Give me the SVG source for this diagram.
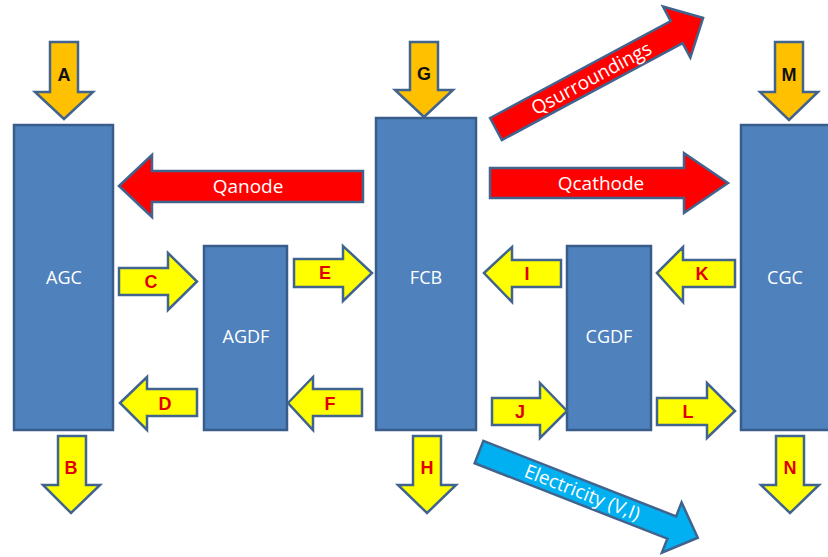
<svg xmlns="http://www.w3.org/2000/svg" width="828" height="557" viewBox="0 0 828 557">
<style>
.box{fill:#4F81BD;stroke:#385D8A;stroke-width:2.5}
.bl{font-family:"Open Sans","Liberation Sans",sans-serif;font-size:18px;fill:#fff;text-anchor:middle}
.io{fill:#FFC000;stroke:#41648F;stroke-width:2.5;stroke-linejoin:miter}
.y{fill:#FFFF00;stroke:#41648F;stroke-width:2.5}
.r{fill:#FF0000;stroke:#41648F;stroke-width:2.5}
.b{fill:#00B0F0;stroke:#41648F;stroke-width:2.5}
.lk{font-family:"Liberation Sans",Arial,sans-serif;font-weight:bold;font-size:18px;fill:#111;text-anchor:middle}
.lr{font-family:"Liberation Sans",Arial,sans-serif;font-weight:bold;font-size:18px;fill:#E00000;text-anchor:middle}
.wt{font-family:"Open Sans","Liberation Sans",sans-serif;font-size:19px;fill:#fff;text-anchor:middle}
</style>
<rect width="828" height="557" fill="#fff"/>
<g id="AGC"><rect class="box" x="14" y="125" width="99" height="305"/><text class="bl" x="64" y="284">AGC</text></g>
<g id="AGDF"><rect class="box" x="204" y="246" width="83" height="184"/><text class="bl" x="246" y="343">AGDF</text></g>
<g id="FCB"><rect class="box" x="376" y="118" width="100" height="312"/><text class="bl" x="426" y="284">FCB</text></g>
<g id="CGDF"><rect class="box" x="567" y="246" width="84" height="184"/><text class="bl" x="609" y="343">CGDF</text></g>
<g id="CGC"><rect class="box" x="741" y="125" width="100" height="305"/><text class="bl" x="785" y="284">CGC</text></g>
<g id="connectors">
<g id="A"><polygon class="io" points="50,42 78,42 78,92 93,92 64,119 35,92 50,92"/><text class="lk" x="64" y="81">A</text></g>
<g id="G"><polygon class="io" points="410,42 438,42 438,90 453,90 424,117 395,90 410,90"/><text class="lk" x="424" y="80">G</text></g>
<g id="M"><polygon class="io" points="775,42 803,42 803,92 818,92 789,120 760,92 775,92"/><text class="lk" x="789" y="81">M</text></g>
<g id="B"><polygon class="y" points="58,436 86,436 86,485 100,485 71,513 43,485 58,485"/><text class="lr" x="71" y="474">B</text></g>
<g id="H"><polygon class="y" points="413,436 441,436 441,485 456,485 427,513 398,485 413,485"/><text class="lr" x="427" y="474">H</text></g>
<g id="N"><polygon class="y" points="776,436 804,436 804,485 819,485 790,513 761,485 776,485"/><text class="lr" x="790" y="474">N</text></g>
<g id="Qanode"><polygon class="r" points="119,186 152,155 152,171 363,171 363,202 152,202 152,217"/><text class="wt" x="248" y="193">Qanode</text></g>
<g id="Qcathode"><polygon class="r" points="490,168 684,168 684,153 728,183 684,213 684,198 490,198"/><text class="wt" x="601" y="190">Qcathode</text></g>
<g id="C"><polygon class="y" points="119,268 168,268 168,253 197,281.5 168,310 168,295 119,295"/><text class="lr" x="151" y="288">C</text></g>
<g id="E"><polygon class="y" points="294,259 343,259 343,246 372,273 343,301 343,287 294,287"/><text class="lr" x="325" y="279">E</text></g>
<g id="D"><polygon class="y" points="120,403 147,377 147,389 197,389 197,416 147,416 147,430"/><text class="lr" x="165" y="410">D</text></g>
<g id="F"><polygon class="y" points="288,403 313,377 313,389 362,389 362,416 313,416 313,430"/><text class="lr" x="330" y="410">F</text></g>
<g id="I"><polygon class="y" points="484,273 512,247 512,260 561,260 561,287 512,287 512,302"/><text class="lr" x="527" y="280">I</text></g>
<g id="K"><polygon class="y" points="657,273 683,247 683,260 735,260 735,287 683,287 683,302"/><text class="lr" x="702" y="280">K</text></g>
<g id="J"><polygon class="y" points="492,398 540,398 540,383 567,411 540,438 540,425 492,425"/><text class="lr" x="520" y="418">J</text></g>
<g id="L"><polygon class="y" points="657,398 707,398 707,383 735,411 707,438 707,425 657,425"/><text class="lr" x="688" y="418">L</text></g>
<g id="Qsurroundings" transform="translate(496,129) rotate(-28.2)"><polygon class="r" points="0,-12.5 205,-12.5 205,-29 235,0 205,29 205,12.5 0,12.5"/><text class="wt" x="108" y="7">Qsurroundings</text></g>
<g id="Electricity" transform="translate(479,452) rotate(21.4)"><polygon class="b" points="0,-12 207,-12 207,-27 235,0 207,27 207,12 0,12"/><text class="wt" x="111" y="6.5" font-size="18">Electricity (V,I)</text></g>
</g>
</svg>
